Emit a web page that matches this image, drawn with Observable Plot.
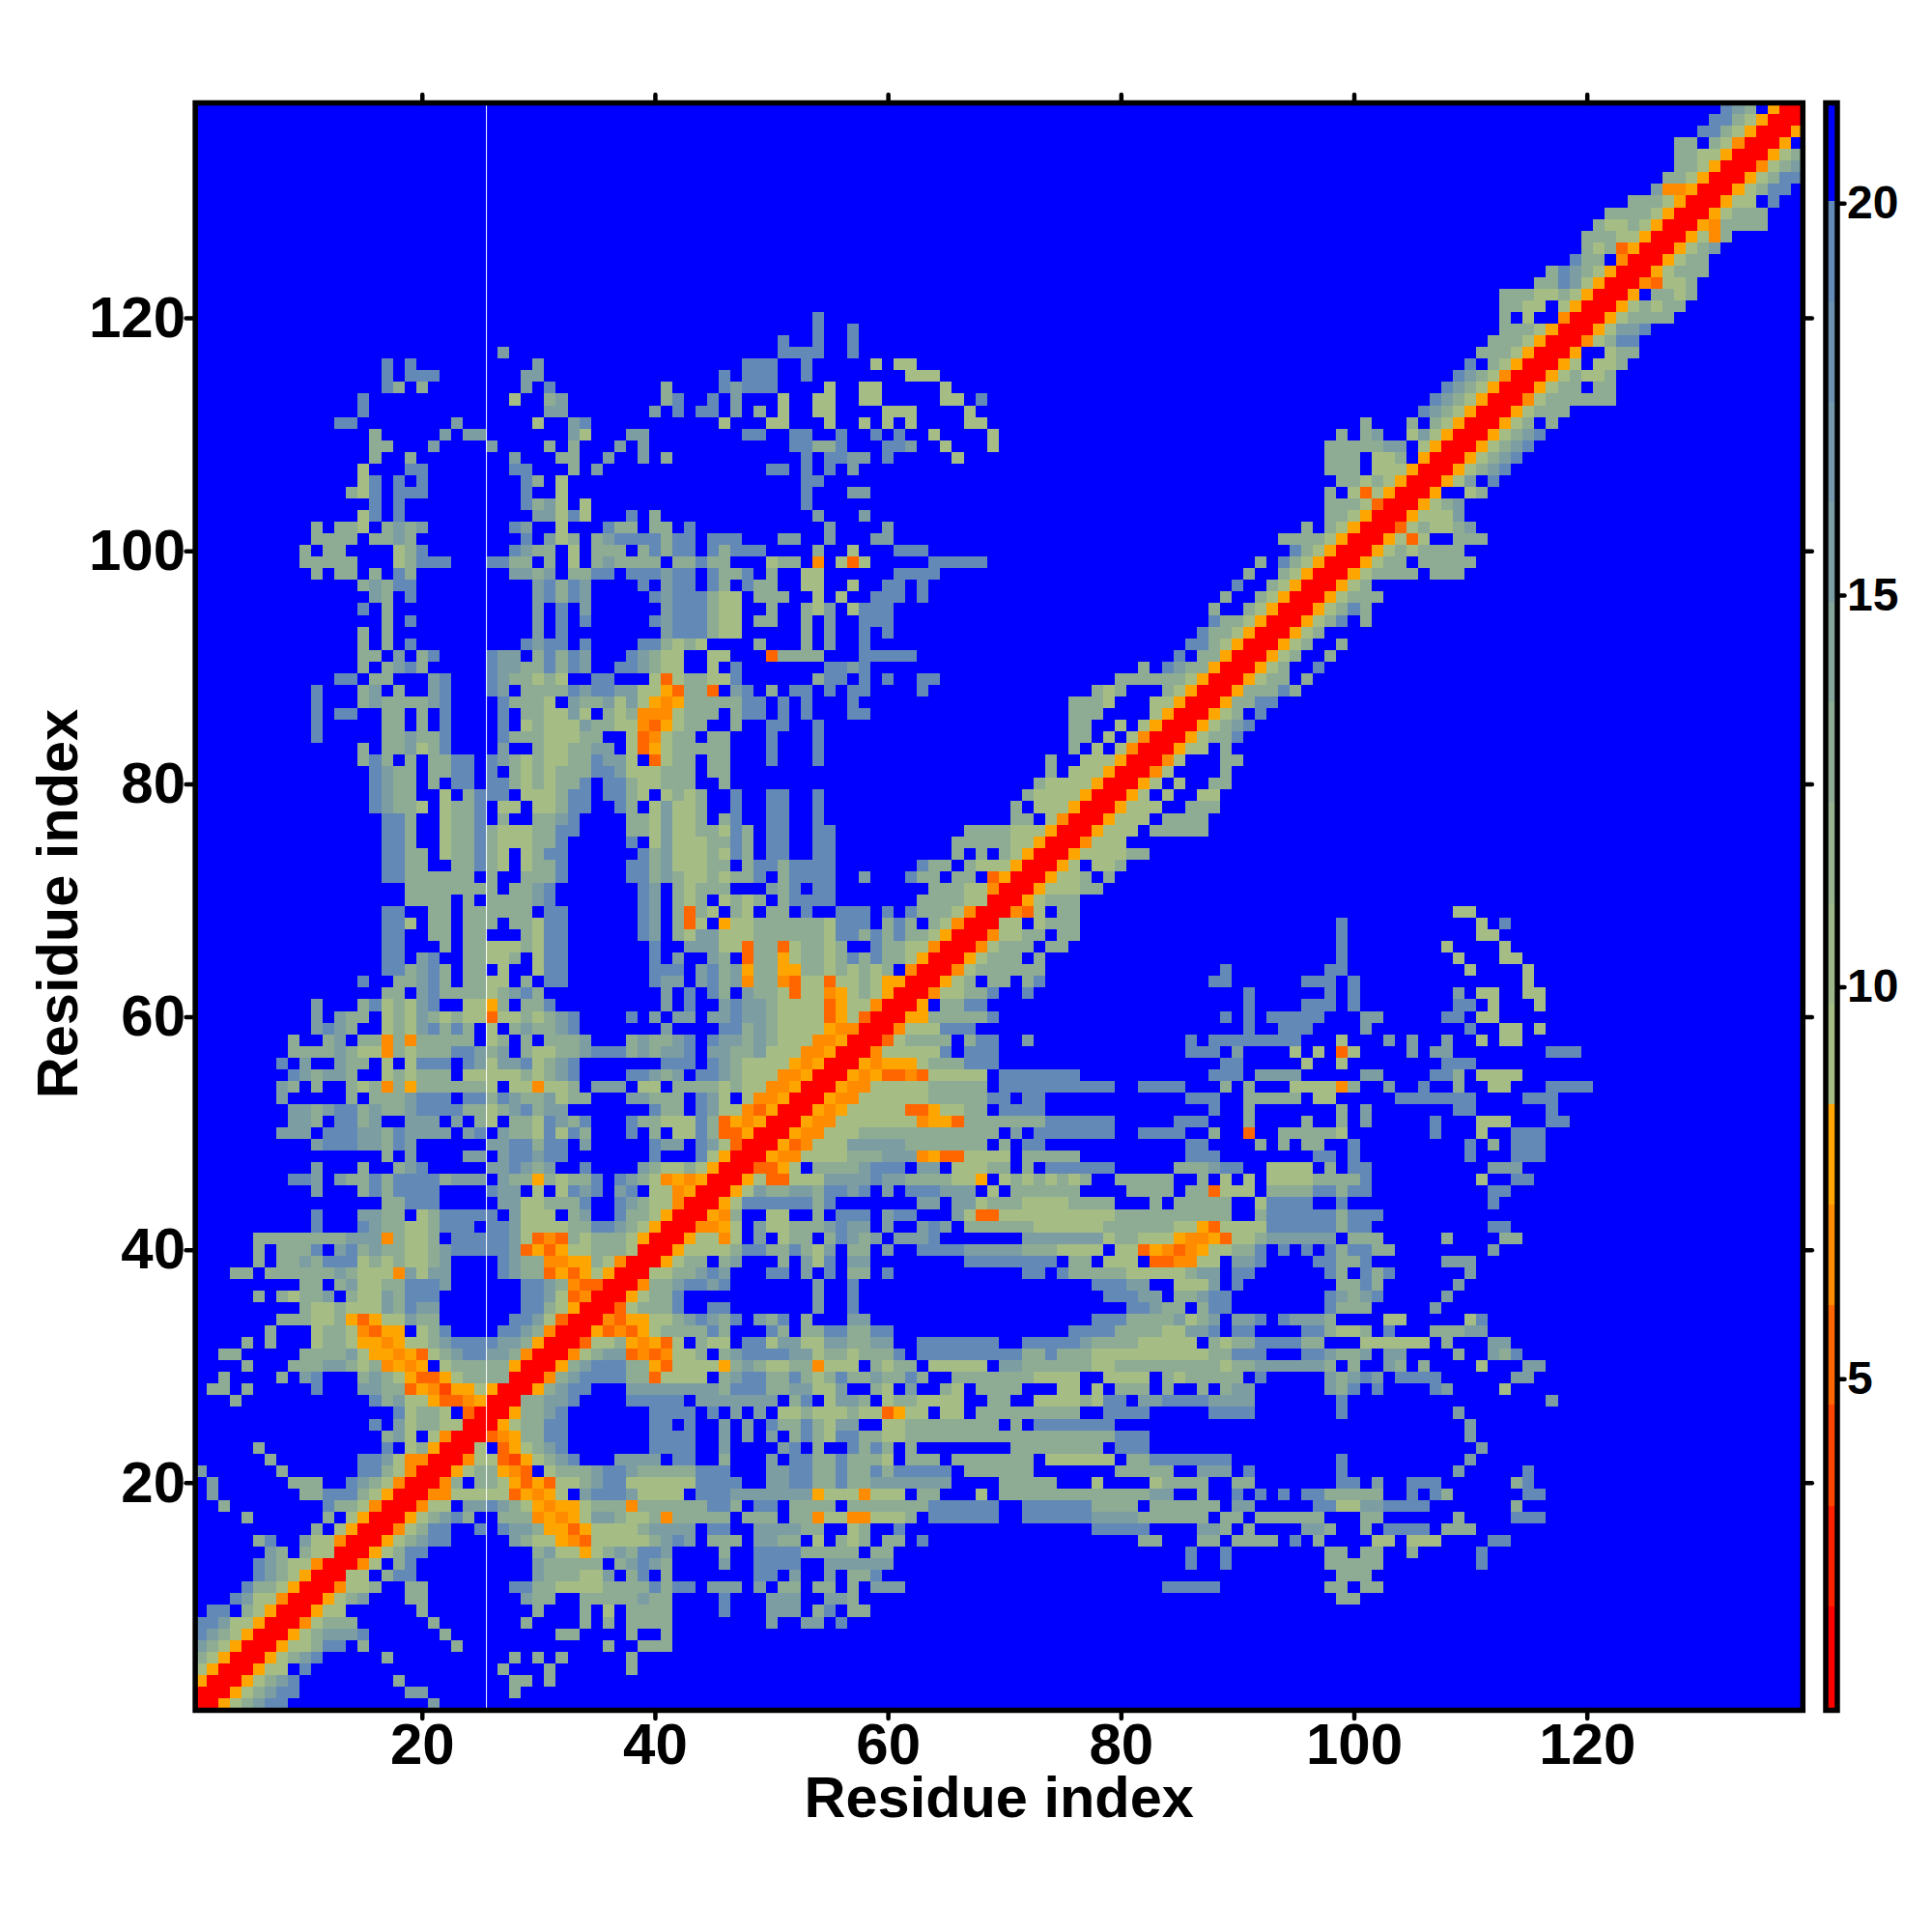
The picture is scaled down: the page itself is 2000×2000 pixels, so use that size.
<!DOCTYPE html>
<html>
<head>
<meta charset="utf-8">
<script src="https://cdn.jsdelivr.net/npm/d3@7"></script>
<script src="https://cdn.jsdelivr.net/npm/@observablehq/plot@0.6"></script>
<style>
body{margin:0;background:#fff}
#chart{position:relative;width:2000px;height:2000px}
#chart svg{position:absolute;left:0;top:0;background:transparent}
</style>
</head>
<body>
<div id="chart"></div>
<script>
const residueCount = 138;
const axisTicks = [20,40,60,80,100,120];
const barTicks = [5,10,15,20];
const axisLabel = "Residue index";
const thresholds = [2.07,3.35,4.64,5.92,7.2,8.48,9.76,11.04,12.32,13.6,14.88,16.16,17.44,18.72,20];
const palette = ["#FF0000","#FF2000","#FF4500","#FF6600","#FF8C00","#FFA500","#A5BD85","#9DB78A","#97B28F","#8EAB94","#85A59B","#7C9EA2","#7497A9","#6B90B0","#6389B7","#0000FF"];
const barLevels = [0.75,2.07,3.35,4.64,5.92,7.2,8.48,9.76,11.04,12.32,13.6,14.88,16.16,17.44,18.72,20,21.26];
// distance per letter (. means beyond 20)
const letterValues = {R:1.4,D:4,C:5.2,O:6.5,A:7.8,g:9,h:12.9,m:15.5,b:19,".":21};
// rows of the lower-right triangle: "firstColumn:letters"
const rowsA = [
"1:RRAghmbb 21:m","2:RRAghmbb 19:mm 28:h","3:RRAghmb 18:h 28:hh 31:h","4:RRAgg.b 27:h 31:h 38:h","5:RRAghmb 17:h 28:h 30:h 32:h 38:h",
"6:RRAgghbb.h 23:h 36:h 39:hhh","7:RRAghmmmb 22:h 32:hh 38:h 41:h","8:RROghhh 21:h 29:h 34:h 36:h 38:hhhh 50:m 53:mm 56:b","9:RRAgg 20:h 30:h 34:h 36:g 38:hhhh 46:b 50:mmm 54:hb 57:hh","10:RRAghm 19:hh 29:mhh 34:hhhhhmhh 46:b 50:mmm 55:mmh 99:hh",
"11:RROggh 19:hh 28:bbhhgggghhhhbhbb 44:.mmm.m.hh.hh.h.mmm 84:bbbbb 98:hh.hh","12:RRgg.hbb 30:mhhhggm.hb.h 49:bb.m..m.hhb 99:hhh","13:RROg.hb 30:mhhhhh.hmbmh 46:m 49:bbbb 55:mmmmmm 86:b 89:b 98:hhhhh 111:b","14:RRAghbb 30:hmggAghmhbbm 46:h 49:bbbb 53:hhhhh.hh 86:b 89:b 98:hh.hh 105:h 111:b","15:RRAghmbb 28:mhggAOCggggghmbm 44:.hhh.mmhh.g.hgh.hh.b 82:hh 87:hh 90:hhhh 95:b 97:h 102:gg 105:ggg 112:bb",
"16:RROghbb 25:b 27:bmmhAACAgggghmmmm 44:.bb..mmmmhh..gh..b 78:bbbbb 87:mmh 91:h 96:mmh 101:h 103:bbbb 108:hhh","17:RRAghmbh. 27:hhhOAOAgmmhgghOhh 44:hhh.hhh.hhOggOOgggh.bbbbbb..bbbbbbmmmmhhhhhh.hh.hhhhhh...hh 109:h 114:bbb","18:RROgg.mmbmhgAOAAghhhOhhhhh 44:hbbh.bb.hhhh.hhhhhhhbbbbbb..bbbbbbhhhh.hhhhhh.mm.....bbggmmbbbb 114:h","19:RROOgggggCAOAg.mbbbmgggg. 44:bbbmmmmmmmAgggOggg.hh...g.hhhhhhhhhhhhhmm..h..b.b.b.bbhhhhh 105:b 107:bh 115:bb","20:RROh.hhgACACgghmbbgggggg 44:bbbb..mmbbhhbhhmmmmmmm....hhhhh...g....ghhhh..hh 99:bb 102:m 105:bbb 114:hb",
"21:RRAghhAOC.ghhhmbbmhhhhh 44:bbb...mmbbhhbhhbhbbbbb.hhhhhh.......hhhhh..mmm.b 99:b 109:m 115:b","22:RROggCDAghmb...mmmm.bb 44:..h...m.bbhhbhhhg.hhh.hhhhhhh.gggggg.hhbbbbbbb 99:b 110:m","23:RRg.CAghmb.......bbbb 44:..m....mb.h..bhbh.h........hhhhhhhh.bbb 111:m","24:RRCOAhhbb.......bbbb 44:..m.m.m.hbhgbbhhgghhhhhhhhhhhhhhhhhhbbb 110:m","25:RRAghhbb.......bb.b 44:..m.m.bhhbhgmm..gghhhhhhhh.h.bbbbbbb 110:m",
"26:RRAhhmb.......bbbb 44:.b.m.m.gghggghggCAgg.gg.hhhhhhhhh..bbbb 88:bbbb 99:b 109:m","27:RRhhmmb....bbbbb. 44:mmmmmmm.hb.gmmh.ghhgggg..hh..gggghgbb.mmbbbbmmmm 99:b 117:m","28:RRAhmbb...mmmmmm 44:mmhbbbhhmmggm..hg.m..hg.hhhh...gg.g.hhh.h..h.hmm 98:mhb.b 107:bm 113:g","29:RROhmbbbbhhCggg 44:g.hmbbhhbhghbhhmhhbh..hhhhhhhgggg..gggg.hghhhhh.b 98:mhmbm 104:bbbb 114:mm","30:RRAhmbbbhhACgg 44:ggAhmhgghhOggg.hghh.ggggg.mmhhhhhhgghhhhhhhhhghhmmmmmmh.h..mh.h 111:g 115:mm",
"31:RROghmmCOCOgg 44:h.hmbbbbmmghhghhhb.bbbbbbbbbhhbhhhgggggggggghhbbb...bbmhhm.mm 109:h 112:mhb","32:RRCgghAOACg. 44:hgg.bbgmmggmmhhmm..bbbbbbb..bbbbbmhhhhggggg.hghhbbbbhh...gggggg.h 112:mm","33:RRACOCAghhh 44:hbh...bh.hhbbhhbb...............bbbbhhhhggmmb.bb....bbhggh.b...hhhmm","34:RROCAAgghm 44:bmhb.mhb.h...mm...................bbbhhhhmghm.mmb.bmmmh....gg 110:gb","35:RRCghhhb. 45:bb 54:m 57:b 81:bbmhh.hbb 98:bhhh 107:m",
"36:RRAghhb. 54:m 57:b 79:bbbmm.hhmbb 98:bmhmb 108:m","37:RROhhmb 44:bmb 54:m 57:b 78:bbbmm 85:gggm.b 99:hhbh 109:m","38:RRgghh 44:mbm...bb.m.b.hh.b 72:bb.bhhhhhggggghmm.bb 98:bh.bhb 110:m","39:RRAgh 44:h.hm...h.mgb.mm........bbbbbbbb.hh.ggg.CCOOgg.mmb....bbhhb 108:mmm","40:RRAg 44:ggghbbhhbhgm.hh.m..bbbbmmmmmhhhgggg.ggCAOCOAgghhb.b.b.bhbbhh 112:m",
"41:RRA 44:ggOg.m.ghh.hbmhm.mmmb.......mmmmmmmghhgggAOOACgghmmmmmm.hhh 108:h 113:hh","42:RROOAg.mgghhhmbmm.m..mbm.hhhhhhgggggghhhhhhggACggggbbbbbbhbb 112:bb","43:RRAOh..gg..h.bbb.mbb...mgCCgggggggggghhhhhhhhhh..hbbbbbbhbbb","44:RRAgbbbbbbhb.......mm.mmghhhgggghhhh...h.hhhhh..gbbbb..b 112:b","45:RRAgmhhmmhbbmb.m.bbbmmm.g.hhhhhh....hhh 84:h.hhCggg.hhhhbbhbb 112:bb",
"46:RRAgCCgggmmmmbmmhhhhggA.ghghghgh..hhhhh..h.g.g.gggghhhhb 111:g 114:bb"
];
const rowsB = [
"47:RRCCAg.hhhhmbbb.mm.ggghh.h.bbbbbb.....hhhmbb..gggg.h.bb 112:mmm","48:RRAOOgggghhhmmmOACCgggg.hhhhh 86:bbb 97:bb 100:b 110:b 114:bbb","49:RRACOgggmmmmmhhhhhhh.h.bb 86:bb 92:h 94:h 96:hh 100:b 110:b 112:h 114:bbb","50:RRAOOggghhhhhhhhhhhh.m.bbbbbbb..bbbb 88:h 91:C 94:hhhhhg 107:b 111:g 114:bbb","51:RRAOOgggggggOAAChhhhhhhbbbbbb 85:bbb 91:h 96:h 99:h 101:m 107:b 111:ggg 117:bb",
"52:RRAOAgggggCCAgghh.bbbb 88:b 91:h 99:h 101:m 109:bb 117:b","53:RRAOOgggggghhhhhbb.bb 86:bbb 91:hhhhh 97:gg 104:bbbbbbb 115:bbb","54:RRAOOggggghhhhh.bbbbbbbbbb..bbbb 89:h 91:h 95:ggggOh 103:m 106:b 109:h 112:gg 117:bbbb","55:RRAOACCOCggggg.bbbbbbb 88:bbb 92:mmmm 101:mm 107:bbh 111:gggg","56:RRAOAAAghhhbbb 89:bb 96:g 99:g 108:bbb",
"57:RROgggggb.bbb 86:bbb 90:m 95:g 97:g 99:Cg 105:m 107:mm 117:bbb","58:RRCghhhh.hbb..m 86:b 88:bbbbbbbb 99:g 103:m 105:m 108:m 111:g 113:gg","59:RROgggbbb 91:b 94:bbb 101:m 110:b 113:gg 116:g","60:RRAAhhhhhb 89:b 91:b 93:bbbbb 101:mm 108:bb 111:gg","61:RRA.hhbb 91:b 96:bbb 100:b 109:bb 112:g 116:g",
"62:RROgghhb..b 91:b 98:b 100:b 109:m 111:gg 115:gg","63:RRAgh.hh.hb 88:bb 96:bbb 100:b 115:g","64:RROghhhhhh 89:b 98:bb 110:g 115:g","65:RRAghhh.h 99:b 109:g 113:gg","66:RROghhh.hh 99:b 108:g 113:g",
"67:RROgghh.hh 99:b 111:gg","68:RRgg.ghhh 99:b 111:g 113:b","69:RROCg.hh 109:gg","70:RRAghhh","71:RRAggghh","72:RRAggh.h","73:RRAg.ggh","74:RRAgggghh","75:RROggg","76:RRAggg.hhhhh",
"77:RRAggg.hhhh","78:RRAggg..hhh","79:RRAg.g..gg","80:RRAg.g..hh","81:RROg....h","82:RROg...hh","83:RRAgg.h","84:RRAghhb","85:RRAghmb","86:RRAgh.b",
"87:RRAhhbb","88:RRAhhhbh","89:RRAghh.h","90:RRAgh..b","91:RRAgh..h","92:RRAgh..h","93:RRAgh","94:RRAghb.h","95:RRAghbh","96:RRAghhh",
"97:RRAgh","98:RRAghhhh.hhh","99:RRAghh.hhhhh","100:RRAghghhhh","101:RRAgCg..hhh","102:RRCghgghm","103:RRAgggm","104:RRAghm","105:RRA..gh","106:RRAgm.b",
"107:RRAghmb","108:RRAghmb","109:RRAghmb","110:RRAghmb","111:RRAgh.h","112:RRAghhh","113:RROghhhhhh","114:RRAghh.hh","115:RRAghggh","116:RRAg.ggh",
"117:RRA..ghh","118:RROghbb","119:RRAgmmb","120:RRAghhhh","121:RRAghghh","122:RRA.hhgh","123:RROCggh","124:RRAghhh","125:RRAghh","126:RRAghm",
"127:RRAgOh","128:RRAOhhhh","129:RRAghhh","130:RRAgg.b","131:RRAghbb","132:RRAghbb","133:RROghm","134:RRAgh","135:RRA.","136:RRA","137:RR","138:R"
];

const matrix = Array.from({length: residueCount}, () => new Array(residueCount).fill(21));
[...rowsA, ...rowsB].forEach((text, rowIndex) => {
  for (const token of text.split(" ")) {
    const [start, letters] = token.split(":");
    [...letters].forEach((ch, k) => {
      const col = +start - 1 + k;
      if (col < residueCount) { matrix[rowIndex][col] = letterValues[ch]; matrix[col][rowIndex] = letterValues[ch]; }
    });
  }
});
const cells = [];
matrix.forEach((row, r) => row.forEach((value, c) => cells.push({col: c + 1, row: r + 1, value})));

const fontFamily = "Liberation Sans";
const main = Plot.plot({
  width: 2000, height: 2000,
  marginLeft: 201.6, marginRight: 134.2, marginTop: 106, marginBottom: 230,
  style: {fontFamily, background: "transparent"},
  x: {domain: [0.5, 138.5]},
  y: {domain: [0.5, 138.5]},
  color: {type: "threshold", domain: thresholds, range: palette},
  marks: [
    Plot.rect(cells, {x1: d => d.col - .5, x2: d => d.col + .5, y1: d => d.row - .5, y2: d => d.row + .5, fill: "value", shapeRendering: "crispEdges"}),
    Plot.ruleX([25.5], {stroke: "#fff", strokeWidth: 1}),
    Plot.frame({stroke: "#000", strokeWidth: 5.5}),
    Plot.axisX({anchor: "bottom", ticks: axisTicks, tickSize: 9, tickPadding: 4, strokeWidth: 4.5, strokeLinecap: "round", fontSize: 60, fontWeight: "bold", label: null, fill: "#000"}),
    Plot.axisX({anchor: "top", ticks: axisTicks, tickSize: 9, strokeWidth: 4.5, strokeLinecap: "round", tickFormat: () => "", label: null}),
    Plot.axisY({anchor: "left", ticks: axisTicks, tickSize: 9, tickPadding: 1, strokeWidth: 4.5, strokeLinecap: "round", fontSize: 60, fontWeight: "bold", label: null, fill: "#000"}),
    Plot.axisY({anchor: "right", ticks: axisTicks, tickSize: 9, strokeWidth: 4.5, strokeLinecap: "round", tickFormat: () => "", label: null}),
    Plot.text([axisLabel], {frameAnchor: "bottom", dy: 110, fontSize: 59.5, fontWeight: "bold", fill: "#000", lineAnchor: "bottom"}),
    Plot.text([axisLabel], {frameAnchor: "left", textAnchor: "middle", dx: -122, dy: -3, rotate: -90, fontSize: 59.5, fontWeight: "bold", fill: "#000", lineAnchor: "bottom"})
  ]
});
const barRows = barLevels.slice(0, -1).map((low, i) => ({low, high: barLevels[i + 1], mid: (low + barLevels[i + 1]) / 2}));
const bar = Plot.plot({
  width: 2000, height: 2000,
  marginLeft: 1889.5, marginRight: 98.5, marginTop: 106, marginBottom: 230,
  style: {fontFamily, background: "transparent"},
  x: {domain: [0, 1], axis: null},
  y: {domain: [0.75, 21.26]},
  color: {type: "threshold", domain: thresholds, range: palette},
  marks: [
    Plot.rect(barRows, {x1: 0, x2: 1, y1: "low", y2: "high", fill: "mid", shapeRendering: "crispEdges"}),
    Plot.frame({stroke: "#000", strokeWidth: 5.5}),
    Plot.axisY({anchor: "right", ticks: barTicks, tickSize: 7, tickPadding: 3, strokeWidth: 4.5, strokeLinecap: "round", fontSize: 48, fontWeight: "bold", label: null, fill: "#000", dy: 2})
  ]
});
const host = document.getElementById("chart");
host.append(main, bar);
</script>
</body>
</html>
